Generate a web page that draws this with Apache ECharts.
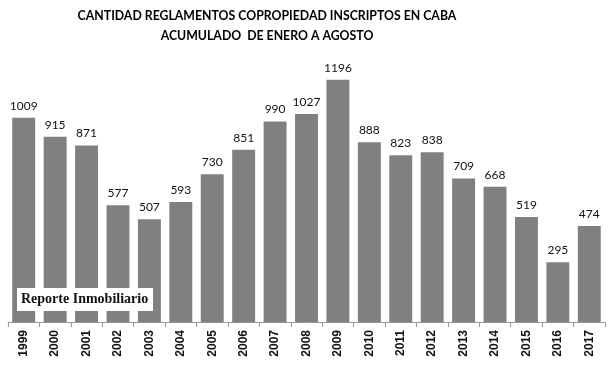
<!DOCTYPE html>
<html><head><meta charset="utf-8">
<script src="https://cdn.jsdelivr.net/npm/echarts@6/dist/echarts.min.js"></script>
<style>html,body{margin:0;padding:0;background:#fff}#c{width:616px;height:369px}</style>
</head><body><div id="c"></div>
<script>
const years = ['1999','2000','2001','2002','2003','2004','2005','2006','2007','2008','2009','2010','2011','2012','2013','2014','2015','2016','2017'];
const values = [1009,915,871,577,507,593,730,851,990,1027,1196,888,823,838,709,668,519,295,474];
const titleLines = ['CANTIDAD REGLAMENTOS COPROPIEDAD INSCRIPTOS EN CABA','ACUMULADO  DE ENERO A AGOSTO'];
const watermark = 'Reporte Inmobiliario';

const chart = echarts.init(document.getElementById('c'));
chart.setOption({
  animation:false,
  backgroundColor:'#fff',
  title:{
    text: titleLines.join('\n'),
    left: 262, top: 1, textAlign:'center',
    textStyle:{fontFamily:'Lato', fontWeight:'bold', fontSize:12.3, color:'#000', lineHeight:20}
  },
  grid:{left:8, right:11, top:79, bottom:47},
  xAxis:{
    type:'category', data:years,
    axisLine:{lineStyle:{color:'#999'}},
    axisTick:{show:true, alignWithLabel:false, length:5, lineStyle:{color:'#999'}},
    axisLabel:{rotate:90, interval:0, fontFamily:'Liberation Sans', fontWeight:'bold', fontSize:12, color:'#111', margin:8}
  },
  yAxis:{type:'value', min:0, max:1200, show:false, splitLine:{show:false}},
  series:[{
    type:'bar', data:values, barCategoryGap:'27%',
    itemStyle:{color:'#808080'},
    label:{show:true, position:'top', distance:6, fontFamily:'Lato', fontSize:12, color:'#111'}
  }],
  graphic:[{
    type:'rect', left:17, top:288, shape:{width:136, height:23}, style:{fill:'#fff'}, z:10
  },{
    type:'text', left:21, top:292, z:11,
    style:{text:watermark, font:'bold 14px "Liberation Serif"', fill:'#111'}
  }]
});
</script></body></html>
